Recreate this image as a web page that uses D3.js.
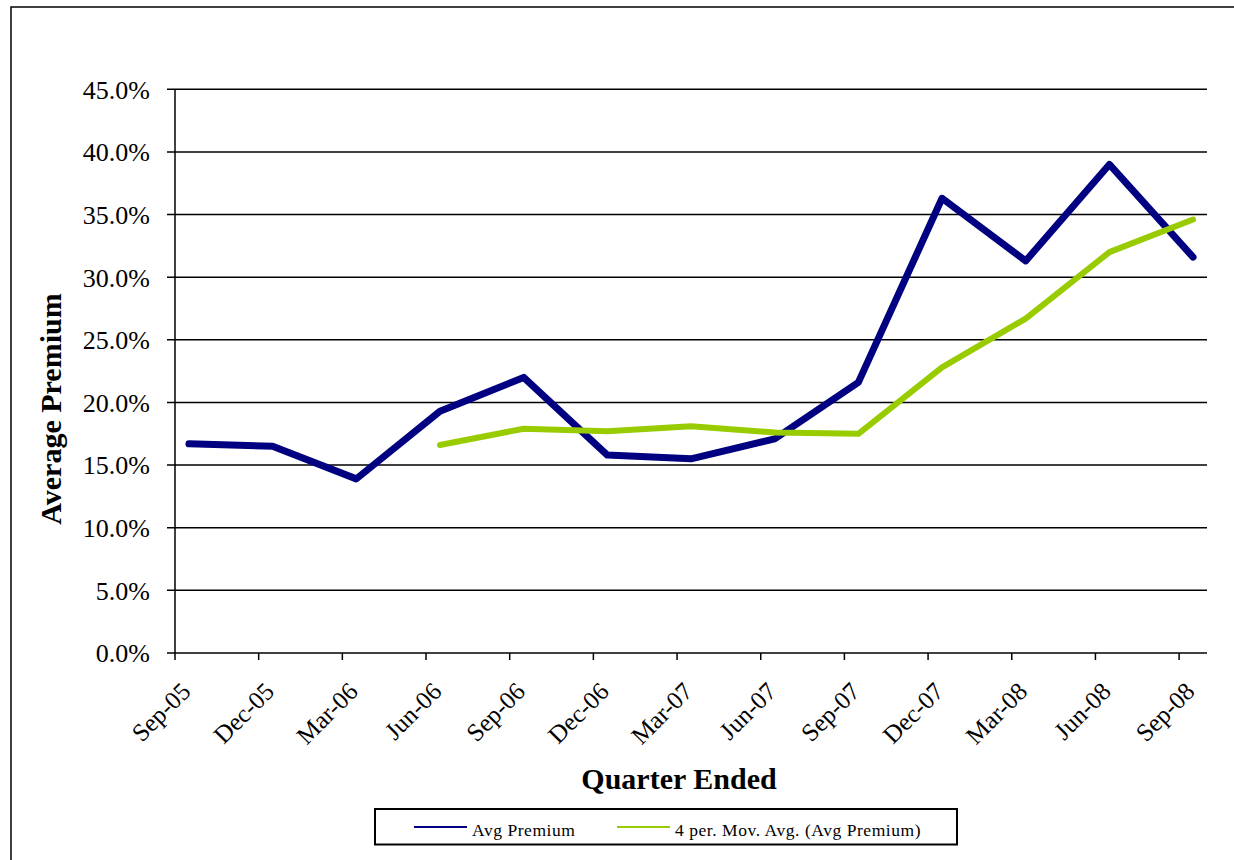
<!DOCTYPE html>
<html>
<head>
<meta charset="utf-8">
<script src="https://cdn.jsdelivr.net/npm/d3@7"></script>
<style>
  body { margin: 0; background: #fff; }
  text { font-family: "Liberation Serif", "Times New Roman", serif; }
</style>
</head>
<body>
<div id="chart"></div>
<script>
// Datos
// =====
var quarters = ["Sep-05", "Dec-05", "Mar-06", "Jun-06", "Sep-06", "Dec-06", "Mar-07",
                "Jun-07", "Sep-07", "Dec-07", "Mar-08", "Jun-08", "Sep-08"];
var avgPremium = [16.7, 16.5, 13.9, 19.3, 22.0, 15.8, 15.5, 17.1, 21.6, 36.3, 31.3, 39.0, 31.6];
// trendline (starts at the 4th quarter)
var movAvg = [null, null, null, 16.6, 17.9, 17.7, 18.1, 17.6, 17.5, 22.8, 26.7, 32.0, 34.6];
var yTicks = [0, 5, 10, 15, 20, 25, 30, 35, 40, 45];

// Dimensiones
// ===========
var W = 1234, H = 860;
var plot = { left: 175, right: 1207, top: 89.3, bottom: 653 };

var svg = d3.select("#chart")
  .append("svg")
  .attr("width", W)
  .attr("height", H);

// marco exterior
svg.append("rect")
  .attr("x", 11).attr("y", 7)
  .attr("width", W + 20).attr("height", H + 20)
  .attr("fill", "none")
  .attr("stroke", "#000")
  .attr("stroke-width", 1.5);

// Escalas (eje por meses, 3 meses por trimestre)
// ==============================================
var x = d3.scaleLinear()
  .domain([0, quarters.length * 3 - 2])
  .range([plot.left, plot.right]);

var y = d3.scaleLinear()
  .domain([0, 45])
  .range([plot.bottom, plot.top]);

function qx(i) { return x(i * 3 + 0.5); }

// Rejilla
// =======
svg.append("g")
  .selectAll("line")
  .data(yTicks)
  .enter().append("line")
  .attr("x1", plot.left - 8)
  .attr("x2", plot.right)
  .attr("y1", function(d) { return y(d); })
  .attr("y2", function(d) { return y(d); })
  .attr("stroke", "#000")
  .attr("stroke-width", 1.5);

// Eje Y
// =====
svg.append("line")
  .attr("x1", plot.left).attr("x2", plot.left)
  .attr("y1", plot.top).attr("y2", plot.bottom)
  .attr("stroke", "#000")
  .attr("stroke-width", 1.5);

svg.append("g")
  .selectAll("text")
  .data(yTicks)
  .enter().append("text")
  .attr("x", 150)
  .attr("y", function(d) { return y(d); })
  .attr("dy", "0.36em")
  .attr("text-anchor", "end")
  .style("font-size", "26px")
  .text(function(d) { return d.toFixed(1) + "%"; });

svg.append("text")
  .attr("transform", "translate(61,409) rotate(-90)")
  .attr("text-anchor", "middle")
  .style("font-size", "30px")
  .style("font-weight", "bold")
  .text("Average Premium");

// Eje X
// =====
var xt = svg.append("g");
xt.selectAll("line")
  .data(quarters)
  .enter().append("line")
  .attr("x1", function(d, i) { return x(i * 3); })
  .attr("x2", function(d, i) { return x(i * 3); })
  .attr("y1", plot.bottom)
  .attr("y2", plot.bottom + 7)
  .attr("stroke", "#000")
  .attr("stroke-width", 1.5);

xt.selectAll("text")
  .data(quarters)
  .enter().append("text")
  .attr("transform", function(d, i) {
    return "translate(" + (x(i * 3) + 17) + "," + (plot.bottom + 40) + ") rotate(-45)";
  })
  .attr("text-anchor", "end")
  .style("font-size", "25px")
  .text(function(d) { return d; });

svg.append("text")
  .attr("x", 679)
  .attr("y", 789)
  .attr("text-anchor", "middle")
  .style("font-size", "30px")
  .style("font-weight", "bold")
  .text("Quarter Ended");

// Lineas
// ======
var line = d3.line()
  .defined(function(d) { return d != null; })
  .x(function(d, i) { return qx(i); })
  .y(function(d) { return y(d); });

svg.append("path")
  .datum(avgPremium)
  .attr("fill", "none")
  .attr("stroke", "#000080")
  .attr("stroke-width", 7)
  .attr("stroke-linejoin", "round")
  .attr("stroke-linecap", "round")
  .attr("d", line);

svg.append("path")
  .datum(movAvg)
  .attr("fill", "none")
  .attr("stroke", "#99CC00")
  .attr("stroke-width", 6)
  .attr("stroke-linejoin", "round")
  .attr("stroke-linecap", "round")
  .attr("d", line);

// Leyenda
// =======
var legend = svg.append("g");
legend.append("rect")
  .attr("x", 375).attr("y", 809)
  .attr("width", 582).attr("height", 35.5)
  .attr("fill", "#fff")
  .attr("stroke", "#000")
  .attr("stroke-width", 2);

var legItems = [
  { name: "Avg Premium", color: "#000080", x: 414 },
  { name: "4 per. Mov. Avg. (Avg Premium)", color: "#99CC00", x: 617 }
];
legItems.forEach(function(it) {
  legend.append("line")
    .attr("x1", it.x).attr("x2", it.x + 53)
    .attr("y1", 827).attr("y2", 827)
    .attr("stroke", it.color)
    .attr("stroke-width", 2);
  legend.append("text")
    .attr("x", it.x + 58)
    .attr("y", 836)
    .style("font-size", "17.5px")
    .style("letter-spacing", "0.55px")
    .text(it.name);
});
</script>
</body>
</html>
